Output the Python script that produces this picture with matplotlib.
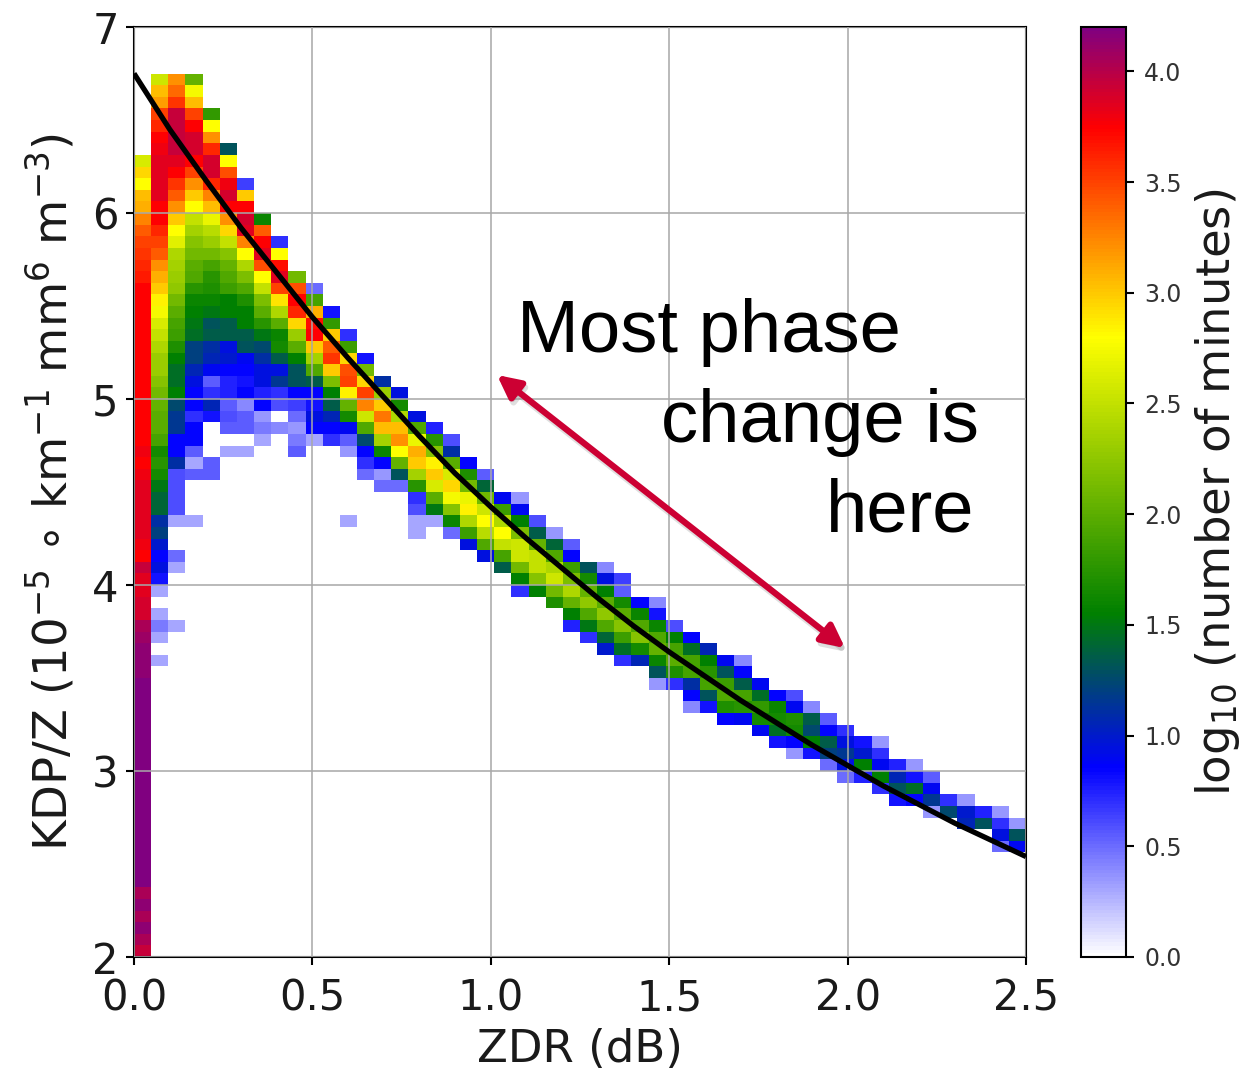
import numpy as np
import matplotlib
matplotlib.use('Agg')
import matplotlib.pyplot as plt
from matplotlib.colors import LinearSegmentedColormap
from matplotlib.patches import FancyArrowPatch

# log10(minutes) per column, listed from the top cell down. N = empty cell
N = None
col_top = [11, 4, 4, 4, 7, 10, 13, 16, 18, 21, 22, 24, 26, 28, 30, 31, 33, 34, 35, 37, 38,
           40, 40, 42, 43, 44, 46, 46, 47, 49, 49, 51, 52, 53, 54, 54, 56, 57, 57, 58,
           59, 60, 61, 61, 63, 63, 64, 66, 66, 67, 67, 68]
col_values = [
    [2.6, 2.95, 2.8, 3.05, 3.1, 3.25, 3.4, 3.5, 3.55, 3.6, 3.65, 3.75, 3.75, 3.75, 3.75, 3.75, 3.75, 3.75, 3.75, 3.75,
     3.75, 3.75, 3.75, 3.75, 3.75, 3.8, 3.75, 3.8, 3.85, 3.85, 3.85, 3.85, 3.85, 3.8, 3.75, 3.95, 3.85, 3.85, 3.9, 3.9,
     4.05, 4.1, 4.15, 4.15, 4.15, 4.2, 4.2, 4.2, 4.2, 4.2, 4.2, 4.2, 4.2, 4.2, 4.2, 4.2, 4.2, 4.2, 4.2, 4.2, 4.2, 4.2, 4.2,
     4.05, 4.15, 4.05, 4.15, 4.05, 3.95],
    [2.55, 3.05, 3.15, 3.5, 3.6, 3.75, 3.8, 3.85, 3.85, 3.85, 3.85, 3.75, 3.75, 3.6, 3.5, 3.4, 3.2, 3.1, 3.0, 2.85, 2.75,
     2.6, 2.5, 2.4, 2.3, 2.3, 2.2, 2.1, 2.05, 2.0, 2.0, 1.9, 1.65, 1.75, 1.65, 1.5, 1.4, 1.4, 1.1, 1.2, 1.0, .85, .95, .8,
     .3, N, .3, .45, .3, N, .3],
    [3.2, 3.35, 3.55, 3.95, 3.95, 3.95, 3.95, 3.85, 3.75, 3.55, 3.4, 3.2, 3.0, 2.8, 2.65, 2.4, 2.35, 2.3, 2.25, 2.1, 2.0,
     1.9, 1.85, 1.7, 1.55, 1.45, 1.45, 1.55, 1.25, 1.15, 1.15, .85, .85, 1.1, .6, .6, .6, .6, .3, N, N, .5, .3, N, N, N, N, .3],
    [2.05, 2.75, 3.05, 3.5, 3.75, 3.9, 3.9, 3.75, 3.5, 3.2, 3.0, 2.8, 2.5, 2.35, 2.2, 2.1, 2.0, 1.95, 1.75, 1.6, 1.55,
     1.5, 1.45, 1.2, 1.2, 1.05, .95, .85, .85, .7, .85, .85, .55, .3, .55, N, N, N, .3],
    [1.8, 2.8, 3.2, 3.6, 3.9, 3.9, 3.6, 3.25, 3.05, 2.7, 2.45, 2.3, 2.1, 1.9, 1.75, 1.7, 1.6, 1.5, 1.3, 1.35, 1.1, 1.05,
     .9, .55, .7, 1.05, .8, N, N, N, .55, .55],
    [1.3, 2.8, 3.45, 3.8, 3.9, 3.75, 3.2, 2.95, 2.5, 2.2, 2.05, 1.95, 1.85, 1.55, 1.55, 1.35, 1.35, .95, 1.0, .85, .75, .75,
     .55, .6, .55, N, .3],
    [.65, 3.0, 3.75, 3.9, 3.85, 3.25, 2.8, 2.4, 2.15, 1.95, 1.7, 1.55, 1.55, 1.35, 1.3, .9, .85, .8, .85, .4, .55, .55, N, .3],
    [1.6, 3.4, 3.75, 3.85, 3.45, 2.8, 2.5, 2.15, 2.0, 1.75, 1.5, 1.25, 1.1, .95, .95, .75, .85, .35, .45, .3],
    [.7, 2.8, 3.7, 3.85, 3.5, 2.9, 2.4, 2.0, 1.6, 1.65, 1.35, .95, 1.15, .7, .6, N, .4],
    [2.1, 3.45, 3.75, 3.6, 2.95, 2.3, 2.0, 1.55, 1.3, 1.3, .85, .65, .5, .35, .45, .55],
    [.5, 1.9, 3.1, 3.7, 3.75, 3.0, 2.35, 1.95, 1.35, .85, .8, .95, .85, .3],
    [.8, 1.8, 3.0, 3.4, 3.55, 3.0, 2.15, 1.55, 1.35, 1.05, .85, .7],
    [.7, 1.85, 2.95, 3.45, 3.5, 2.85, 2.05, 1.65, .9, .55, .35, N, N, N, N, N, .3],
    [.8, 2.1, 2.95, 3.5, 3.25, 2.55, 1.95, 1.25, .85, .7, .5],
    [1.1, 2.3, 3.0, 3.3, 3.05, 2.35, 1.6, .85, .35, .5],
    [.95, 1.65, 2.4, 3.05, 3.2, 2.8, 2.05, 1.3, .5],
    [.95, 1.95, 2.7, 3.1, 3.0, 2.35, 1.75, .7, .6, .3, .3],
    [.75, 1.75, 2.2, 2.85, 3.0, 2.6, 2.0, 1.5, .3],
    [.6, 1.1, 2.0, 2.6, 2.95, 2.75, 2.2, 1.6, .5],
    [.85, 1.7, 2.1, 2.7, 2.85, 2.4, 1.85, .95],
    [.55, 1.4, 2.1, 2.55, 2.8, 2.45, 1.95, .95],
    [.9, 1.85, 2.4, 2.8, 2.5, 1.9, 1.35],
    [.35, .9, 1.55, 2.15, 2.55, 2.55, 2.1, 1.55, .7],
    [.6, 1.35, 2.05, 2.5, 2.5, 2.2, 1.55],
    [.35, 1.4, 1.95, 2.4, 2.55, 2.1, 1.7],
    [.55, .85, 1.85, 2.15, 2.4, 2.05, 1.55, .75],
    [1.3, 1.65, 2.05, 2.25, 1.95, 1.5, .7],
    [.4, .95, 1.55, 2.0, 2.25, 1.95, 1.4, 1.0],
    [.65, .55, 1.65, 2.0, 2.2, 1.85, 1.45, .7],
    [.85, 1.6, 1.95, 2.2, 1.65, 1.05],
    [.4, .8, 1.6, 1.95, 2.05, 1.6, 1.3, .35],
    [.6, 1.55, 1.9, 2.0, 1.7, .7],
    [.85, 1.45, 1.9, 1.9, 1.1, .85, .4],
    [1.05, 1.55, 1.75, 1.9, 1.3, .8],
    [.9, 1.3, 1.85, 1.95, 1.7, .85],
    [.4, .85, 1.35, 1.9, 1.75, .9],
    [.9, 1.45, 1.8, 1.65, .9],
    [.85, 1.6, 1.65, 1.45, .8],
    [.6, .9, 1.7, 1.65, .85, .35],
    [.4, 1.35, 1.25, 1.55, .8],
    [.55, .85, 1.35, 1.2, .5],
    [.7, .95, 1.15, .95, .5],
    [.8, 1.0, 1.55, .75],
    [.35, .7, .9, 1.55, .7],
    [.75, 1.05, 1.3, .8],
    [.35, .8, 1.45, .85],
    [.55, .9, 1.15, .35],
    [.7, 1.25],
    [.35, 1.0, 1.05],
    [.75, 1.3],
    [.35, .7, .95, .5],
    [.35, 1.3, .9],
]

# black fit line, every 0.1 dB
line_zdr = [0.0, 0.1, 0.2, 0.3, 0.4, 0.5, 0.6, 0.7, 0.8, 0.9, 1.0, 1.1, 1.2,
            1.3, 1.4, 1.5, 1.6, 1.7, 1.8, 1.9, 2.0, 2.1, 2.2, 2.3, 2.4, 2.5]
line_kdp = [6.75, 6.45, 6.18, 5.92, 5.68, 5.44, 5.22, 5.01, 4.80, 4.60, 4.42, 4.25, 4.09,
            3.93, 3.78, 3.64, 3.51, 3.38, 3.26, 3.14, 3.03, 2.92, 2.82, 2.72, 2.63, 2.54]

xticks = [0.0, 0.5, 1.0, 1.5, 2.0, 2.5]
yticks = [2, 3, 4, 5, 6, 7]
cticks = [0.0, 0.5, 1.0, 1.5, 2.0, 2.5, 3.0, 3.5, 4.0]

vmax = 4.2
cmap = LinearSegmentedColormap.from_list('minutes', [
    (0.0, 'white'), (0.85 / vmax, '#0000ff'), (1.55 / vmax, '#008000'), (2.8 / vmax, '#ffff00'),
    (3.75 / vmax, '#ff0000'), (1.0, '#800080')], N=256)

W, H = 1253, 1068
fig = plt.figure(figsize=(W / 100, H / 100), dpi=100)
ax = fig.add_axes([134 / W, 1 - 957 / H, 892 / W, 930 / H])
cax = fig.add_axes([1081 / W, 1 - 957 / H, 45 / W, 930 / H])

nrows, ncols = 80, len(col_values)
grid = np.full((nrows, ncols), np.nan)
for c in range(ncols):
    vals = np.array(col_values[c], dtype=float)
    for i in range(len(vals)):
        grid[nrows - 1 - (col_top[c] + i), c] = vals[i]

xedges = np.linspace(0, 2.5, ncols + 1)
yedges = np.linspace(2, 7, nrows + 1)
mesh = ax.pcolormesh(xedges, yedges, np.ma.masked_invalid(grid), cmap=cmap, vmin=0, vmax=vmax, zorder=1)
ax.grid(True, color='#a8a8a8', alpha=0.8, lw=1.4)
ax.set_axisbelow(False)
for g in ax.get_xgridlines() + ax.get_ygridlines():
    g.set_zorder(2)
ax.plot(line_zdr, line_kdp, color='black', lw=3.8, zorder=3, solid_capstyle='butt')

ax.set_xlim(0, 2.5)
ax.set_ylim(2, 7)
ax.set_xticks(xticks)
ax.set_yticks(yticks)
ax.set_xticklabels(['%.1f' % t for t in xticks])
ax.tick_params(labelsize=30, width=1.5, length=6, pad=5, labelcolor='#1a1a1a')
ax.tick_params(axis='x', pad=9)
ax.set_xlabel('ZDR (dB)', fontsize=32.5, labelpad=6, color='#1a1a1a')
ax.set_ylabel(r'KDP/Z ($10^{-5}$ $\circ$ km$^{-1}$ mm$^{6}$ m$^{-3}$)', fontsize=33.5, labelpad=11, color='#1a1a1a')
for s in ax.spines.values():
    s.set_linewidth(1.5)

cb = fig.colorbar(mesh, cax=cax, ticks=cticks)
cb.ax.tick_params(labelsize=17, width=1.5, length=6, pad=7, labelcolor='#333333')
cb.outline.set_linewidth(1.5)
cb.set_label(r'log$_{10}$ (number of minutes)', fontsize=33.5, labelpad=8, color='#1a1a1a')

fig.text(517 / W, 1 - 352 / H, 'Most phase', fontsize=53.5, family='Liberation Sans', ha='left', va='baseline')
fig.text(979 / W, 1 - 442 / H, 'change is', fontsize=53.5, family='Liberation Sans', ha='right', va='baseline')
fig.text(974 / W, 1 - 532 / H, 'here', fontsize=53.5, family='Liberation Sans', ha='right', va='baseline')

# double headed arrow with its soft shadow
for dx, dy, colr, al, zo in [(2, 4, '#808080', 0.25, 5), (0, 0, '#cc0033', 1.0, 6)]:
    arrow = FancyArrowPatch(((497 + dx) / W, 1 - (375 + dy) / H), ((845 + dx) / W, 1 - (648 + dy) / H),
                            transform=fig.transFigure, arrowstyle='<|-|>', mutation_scale=34, lw=4.5,
                            color=colr, alpha=al, shrinkA=0, shrinkB=0, zorder=zo)
    fig.add_artist(arrow)

fig.savefig('out.png', dpi=100)
